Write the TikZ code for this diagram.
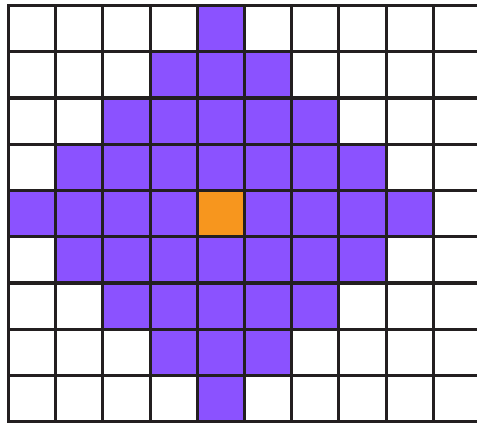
\documentclass[tikz,border=0pt]{standalone}
\usepackage{tikz}
\definecolor{gridline}{RGB}{35, 31, 32}
\definecolor{reach}{RGB}{139, 82, 255}
\definecolor{origin}{RGB}{247, 150, 30}

\begin{document}
\begin{tikzpicture}[
    x=1.25cm, y=-1.225cm,
    cell/.style={fill=#1, draw=none},
    grid line/.style={draw=gridline, line width=2.4pt, line cap=rect}
]
    % Frame (page size)
    \useasboundingbox (-0.18,-0.119) rectangle (9.926,9.168);

    % Diamond of reachable cells
    \foreach \r in {0,...,8} {
        \foreach \c in {0,...,9} {
            \pgfmathtruncatemacro{\dist}{abs(\r-4)+abs(\c-4)}
            \ifnum\dist<5
                \fill[cell=reach] (\c,\r) rectangle ++(1,1);
            \fi
        }
    }

    % Centre cell
    \fill[cell=origin] (4,4) rectangle (5,5);

    % Grid
    \foreach \c in {0,...,10}
        \draw[grid line] (\c,0) -- (\c,9);
    \foreach \r in {0,...,9}
        \draw[grid line] (0,\r) -- (10.2,\r);
\end{tikzpicture}
\end{document}
